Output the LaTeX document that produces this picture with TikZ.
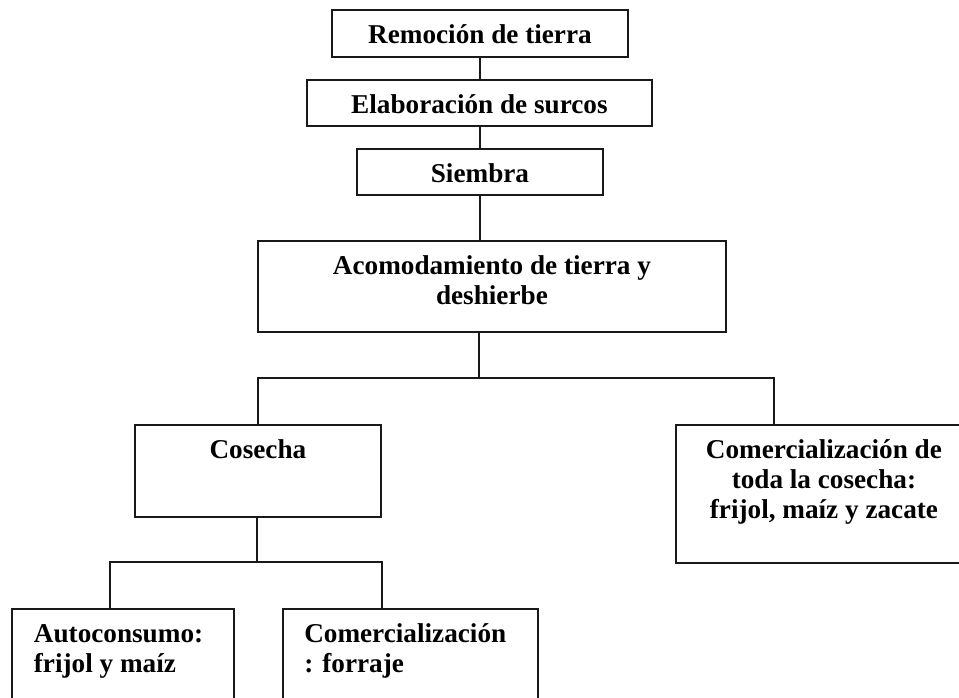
\documentclass[tikz,border=0pt]{standalone}
\usepackage{fontspec}
\setmainfont{Liberation Serif}
\usepackage{tikz}
\newcommand{\textocaja}[4]{\begin{minipage}[t][#2][t]{#1}#3\rule{0pt}{25.5pt}#4\end{minipage}}
\tikzstyle{caja} = [draw=black!90, line width=1.4pt, inner sep=0pt, anchor=north west, font=\bfseries\fontsize{20.4}{22.5}\selectfont]
\tikzstyle{linea} = [draw=black!90, line width=1.4pt]
\begin{document}
\begin{tikzpicture}[x=0.75pt,y=-0.75pt]
					\useasboundingbox (0,0) rectangle (959,698);
					\clip (0,0) rectangle (959,698);
					\node[caja] (remocion) at (331,9) {\textocaja{222pt}{35.25pt}{\centering}{Remoción de tierra}};
					\node[caja] (surcos) at (306,79) {\textocaja{258.75pt}{34.5pt}{\centering}{Elaboración de surcos}};
					\node[caja] (siembra) at (356,148) {\textocaja{184.5pt}{34.5pt}{\centering}{Siembra}};
					\node[caja] (acomodo) at (257,240) {\textocaja{351pt}{68.25pt}{\centering}{Acomodamiento de tierra y\\ deshierbe}};
					\node[caja] (cosecha) at (134,424) {\textocaja{184.5pt}{69pt}{\centering}{Cosecha}};
					\node[caja] (venta) at (675,424) {\textocaja{222pt}{103.5pt}{\centering}{Comercialización de\\ toda la cosecha:\\ frijol, maíz y zacate}};
					\node[caja] (autoconsumo) at (11,608) {\textocaja{166.5pt}{90pt}{\raggedright\leftskip=16.5pt}{Autoconsumo:\\ frijol y maíz}};
					\node[caja] (forraje) at (282,608) {\textocaja{191.25pt}{90pt}{\raggedright\leftskip=16pt}{Comercialización\\ : forraje}};
					\coordinate (ramaA) at (479,378);
					\coordinate (pieB) at (774,424);
					\coordinate (ramaB) at (257,562);
					\coordinate (pieC) at (110,608);
					\coordinate (pieD) at (382,608);
					\draw[linea] (siembra.north |- remocion.south) -- (siembra.north |- surcos.north);
					\draw[linea] (siembra.north |- surcos.south) -- (siembra.north);
					\draw[linea] (siembra.south) -- (siembra.south |- acomodo.north);
					\draw[linea] (ramaA |- acomodo.south) -- (ramaA);
					\draw[linea] (cosecha.north) |- (ramaA) -| (pieB);
					\draw[linea] (ramaB |- cosecha.south) -- (ramaB);
					\draw[linea] (pieC) |- (ramaB) -| (pieD);
\end{tikzpicture}
\end{document}
